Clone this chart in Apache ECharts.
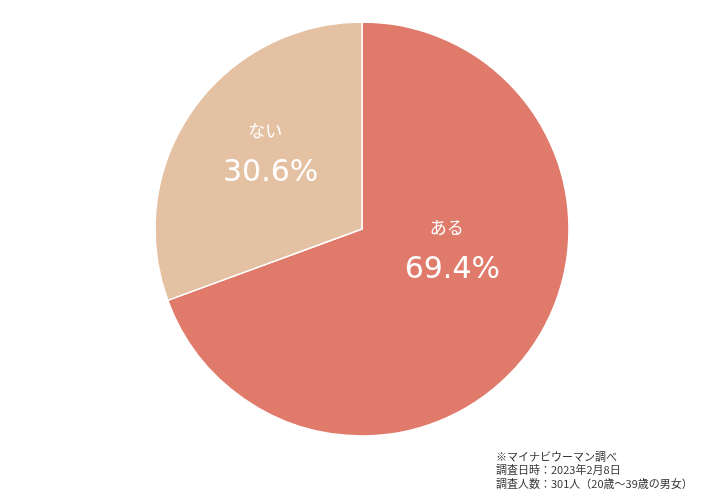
<!DOCTYPE html>
<html><head><meta charset="utf-8">
<script src="https://cdn.jsdelivr.net/npm/echarts@6/dist/echarts.min.js"></script>
<style>html,body{margin:0;padding:0;background:#fff}#c{width:706px;height:497px}</style>
</head><body><div id="c"></div>
<script>
const categories = ['ある', 'ない'];
const values = [69.4, 30.6];
const colors = ['#E07B6C', '#E5C1A3'];
const notes = ['※マイナビウーマン調べ', '調査日時：2023年2月8日', '調査人数：301人（20歳～39歳の男女）'];
const labelPads = [[0, 0, 76, 6], [0, 8, 26, 0]];

const chart = echarts.init(document.getElementById('c'));
chart.setOption({
  animation: false,
  title: {
    text: notes.join('\n'),
    left: 491, top: 445,
    textStyle: { fontSize: 11, fontWeight: 'normal', color: '#333', lineHeight: 13.5, fontFamily: '"Noto Sans CJK JP", sans-serif' }
  },
  series: [{
    type: 'pie',
    center: [362, 229],
    radius: [0, 207],
    startAngle: 90,
    clockwise: true,
    label: {
      position: 'inside',
      formatter: p => '{a|' + p.name + '}\n{b|' + p.value.toFixed(1) + '%}',
      rich: {
        a: { fontSize: 17, color: '#fff', fontFamily: '"Noto Sans CJK JP", sans-serif', lineHeight: 36, padding: [0, 11, 0, 0] },
        b: { fontSize: 30, color: '#fff', fontFamily: '"DejaVu Sans", sans-serif', lineHeight: 48 }
      }
    },
    labelLine: { show: false },
    itemStyle: { borderColor: '#fff', borderWidth: 1.5 },
    data: categories.map((c, i) => ({
      name: c, value: values[i],
      itemStyle: { color: colors[i] },
      label: { padding: labelPads[i] }
    }))
  }]
});
</script></body></html>
